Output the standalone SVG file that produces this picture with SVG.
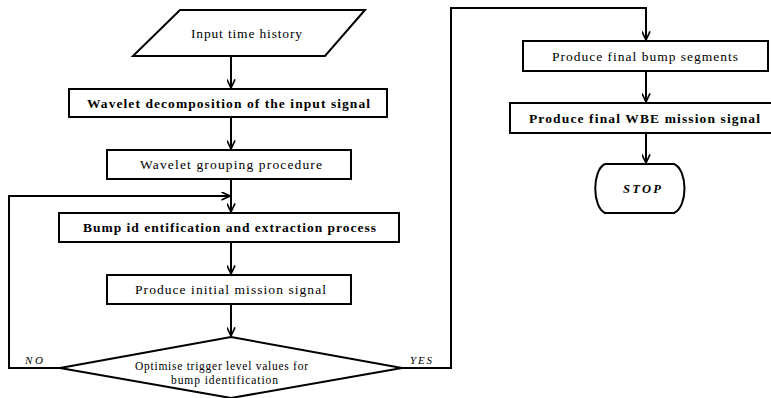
<svg xmlns="http://www.w3.org/2000/svg" width="771" height="398" viewBox="0 0 771 398">
<style>
.n{fill:#fff;stroke:#000;stroke-width:2}
.t{font-family:"Liberation Serif","DejaVu Serif","Times New Roman",serif;font-size:13.5px;fill:#000;text-anchor:middle}
.b{font-weight:bold}
.i{font-style:italic}
.c{fill:none;stroke:#000;stroke-width:2}
</style>
<defs>
<marker id="ah" viewBox="0 0 10 10" refX="9.5" refY="5" markerWidth="9" markerHeight="9" markerUnits="userSpaceOnUse" orient="auto">
<path d="M0,0.5 L9.5,5 L0,9.5" fill="none" stroke="#000" stroke-width="1.8"/>
</marker>
</defs>
<rect width="771" height="398" fill="#fff"/>
<g id="connectors">
<path class="c" d="M231,56 V88" marker-end="url(#ah)"/>
<path class="c" d="M231,117 V149" marker-end="url(#ah)"/>
<path class="c" d="M231,179 V212" marker-end="url(#ah)"/>
<path class="c" d="M60,368 H9 V196 H230" marker-end="url(#ah)"/>
<path class="c" d="M231,242 V274" marker-end="url(#ah)"/>
<path class="c" d="M231,304 V336" marker-end="url(#ah)"/>
<path class="c" d="M402,368 H451 V8 H646 V40" marker-end="url(#ah)"/>
<path class="c" d="M646,71 V102" marker-end="url(#ah)"/>
<path class="c" d="M646,133 V163" marker-end="url(#ah)"/>
<text class="t i" x="34" y="364" style="font-size:11px" textLength="18" lengthAdjust="spacing">NO</text>
<text class="t i" x="421" y="364" style="font-size:11px" textLength="22" lengthAdjust="spacing">YES</text>
</g>
<g id="input">
<polygon class="n" points="180,10 365,10 325,56 133,56"/>
<text class="t" x="246.5" y="38" textLength="111" lengthAdjust="spacing">Input time history</text>
</g>
<g id="decomp">
<rect class="n" x="69" y="89" width="318" height="28"/>
<text class="t b" x="228.5" y="107.5" textLength="283" lengthAdjust="spacing">Wavelet decomposition of the input signal</text>
</g>
<g id="grouping">
<rect class="n" x="107" y="150" width="244" height="29"/>
<text class="t" x="231" y="168.5" textLength="182" lengthAdjust="spacing">Wavelet grouping procedure</text>
</g>
<g id="bump">
<rect class="n" x="59" y="213" width="340" height="29"/>
<text class="t b" x="229.5" y="232" textLength="293" lengthAdjust="spacing">Bump id entification and extraction process</text>
</g>
<g id="initial">
<rect class="n" x="107" y="275" width="244" height="29"/>
<text class="t" x="230.5" y="294" textLength="191" lengthAdjust="spacing">Produce initial mission signal</text>
</g>
<g id="decision">
<polygon class="n" points="231,337 402,368 231,398 60,368"/>
<text class="t" x="221.5" y="369.5" style="font-size:11.5px" textLength="173" lengthAdjust="spacing">Optimise trigger level values for</text>
<text class="t" x="224.5" y="383.5" style="font-size:11.5px" textLength="107" lengthAdjust="spacing">bump identification</text>
</g>
<g id="segments">
<rect class="n" x="523" y="41" width="245" height="30"/>
<text class="t" x="645" y="60.5" textLength="186" lengthAdjust="spacing">Produce final bump segments</text>
</g>
<g id="final">
<rect class="n" x="510" y="103" width="266" height="30"/>
<text class="t b" x="644.5" y="122.5" textLength="231" lengthAdjust="spacing">Produce final WBE mission signal</text>
</g>
<g id="stop">
<path class="n" d="M605,164 L674,164 C688,170 688,207 674,213 L605,213 C592,207 592,170 605,164 Z"/>
<text class="t b i" x="642" y="192.5" style="font-size:12.5px" textLength="38" lengthAdjust="spacing">STOP</text>
</g>
</svg>
